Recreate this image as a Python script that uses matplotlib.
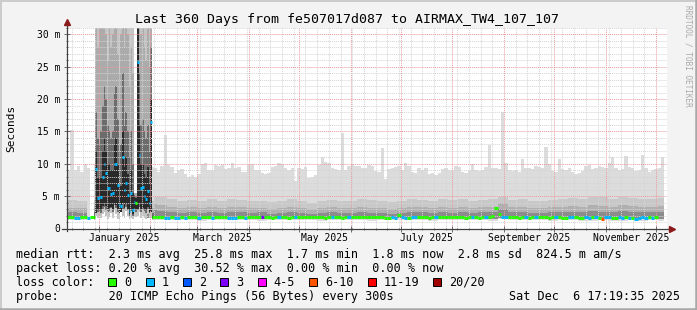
import numpy as np
import matplotlib
matplotlib.use("Agg")
import matplotlib.pyplot as plt
import matplotlib.dates as mdates
from matplotlib.patches import Rectangle
from matplotlib.transforms import blended_transform_factory
from datetime import datetime, timedelta

W, H = 697, 310
MONO = "DejaVu Sans Mono"

# time frame: left edge of the plot, span shown, days that hold data
DAY0 = datetime(2024, 12, 13, 3, 0)
SPAN_DAYS = 359.5
DATA_DAYS = 358

TITLE = "Last 360 Days from fe507017d087 to AIRMAX_TW4_107_107"
LOSS_LABELS = ["0", "1", "2", "3", "4-5", "6-10", "11-19", "20/20"]
LOSS_COLORS = ["#26ff00", "#00b8ff", "#0059ff", "#7e00ff",
               "#ff00ff", "#ff5500", "#ff0000", "#a10000"]
SMOKE = ["#dcdcdc", "#c8c8c8", "#b0b0b0", "#8c8c8c"]
OUT_SMOKE = ["#dddddd", "#c4c4c4", "#ababab", "#6c6c6c", "#2a2a2a"]
nan = np.nan

# ---- 2-day bins (bin i = days 2i..2i+2), ms -------------------------------
hi_ms = [9.0, 15.2, 9.0, 9.6, 8.8, 10.0, 9.4, 10.0,
         nan, nan, nan, nan, nan, nan, nan, nan, nan, nan, nan, nan, nan, nan, nan, nan, nan, nan,
         9.4, 8.8, 9.6, 14.4, 9.8, 9.5, 8.6, 9.0, 9.2, 8.4,
         8.0, 8.3, 8.0, 8.4, 9.9, 10.1, 9.0, 9.1, 9.8, 9.7, 9.8, 9.2, 9.4, 10.2, 9.4, 9.5, 8.8, 8.7,
         9.8, 10.0, 9.0, 9.1, 8.6, 8.4, 8.6, 9.5, 9.6, 10.1, 10.0, 9.3, 9.0, 9.4, 7.4, 9.3, 9.2, 9.5,
         7.8, 7.9, 8.2, 9.8, 11.1, 10.3, 10.1, 9.4, 9.2, 9.0, 14.8, 9.1, 9.6, 10.0, 9.7, 9.6, 9.3, 9.3,
         9.8, 9.7, 8.9, 8.8, 12.5, 7.6, 9.2, 9.3, 9.5, 9.6, 9.0, 10.2, 9.6, 8.7, 8.6, 9.4, 9.0, 9.3,
         8.4, 8.6, 8.3, 8.6, 9.2, 9.3, 9.0, 9.1, 9.6, 9.5, 8.8, 8.6, 8.9, 10.0, 9.0, 8.9, 9.1, 9.5,
         12.9, 9.3, 9.4, 9.2, 18.0, 10.1, 9.0, 8.9, 9.1, 8.8, 10.8, 9.3, 9.4, 9.2, 9.6, 9.5, 9.4, 12.6,
         10.0, 8.9, 8.7, 10.8, 9.2, 9.0, 9.3, 8.7, 8.5, 8.6, 8.9, 9.6, 9.8, 9.2, 9.4, 9.6, 9.5, 9.4,
         10.1, 11.0, 9.3, 9.1, 9.2, 11.2, 9.5, 9.4, 8.9, 9.0, 11.3, 9.3, 8.8, 9.0, 9.2, 9.4, 11.1]

med_ms = [1.8, 1.8, 1.7, 1.7, 1.8, 1.8, 1.7, 1.8,
          nan, nan, nan, nan, nan, nan, nan, nan, nan, nan, nan, nan, nan, nan, nan, nan, nan, nan,
          1.8, 1.8, 1.8, 1.7, 1.7, 1.8, 1.7, 1.7, 1.8, 1.7,
          1.8, 1.8, 1.8, 1.7, 1.8, 1.8, 1.8, 1.7, 1.8, 1.8, 1.8, 1.8, 1.7, 1.7, 1.7, 1.8, 1.8, 1.7,
          1.8, 1.8, 1.8, 1.8, 1.8, 1.8, 1.8, 1.7, 1.8, 1.8, 1.8, 1.8, 1.7, 1.8, 1.8, 1.8,
          1.8, 1.8, 1.8, 1.8, 1.8, 1.8, 1.8, 1.7, 1.8, 1.8, 1.8, 1.8, 1.7, 1.8, 1.8, 1.8, 1.8, 1.8,
          1.8, 1.8, 1.8, 1.8, 1.8, 1.8, 1.8, 1.7, 1.7, 1.8, 1.7, 2.1, 1.8, 1.7, 1.7, 1.8, 1.8, 1.8,
          1.8, 1.8, 1.7, 1.8, 1.8, 1.8, 1.8, 1.8, 1.8, 1.8, 1.8, 1.8, 1.8, 1.7, 1.8, 1.8, 1.8, 1.7,
          1.8, 1.8, 1.8, 1.9, 3.1, 2.3, 1.8, 1.8, 1.8, 1.8, 1.8, 1.7, 1.8, 1.8, 1.7, 1.8, 1.8, 1.8,
          1.8, 1.8, 1.7, 1.8, 1.8, 1.8, 1.7, 1.7, 1.8, 1.8, 1.8, 1.7, 1.7, 1.8, 1.7, 1.8, 1.8, 1.7,
          1.5, 1.8, 1.8, 1.7, 1.7, 1.8, 1.7, 1.8, 1.7, 1.6, 1.5, 1.7, 1.8, 1.7, 1.8, 1.7, 1.8]

# loss class per 2-day bin, index into LOSS_LABELS
loss_2d = ("00110010" "000000000000000000" "0001101101"
           "000100010000111001000030000100001000"
           "000000010000100000000000011011011000"
           "001000000000010001000011000001001000"
           "00100011000110105110011010111101010")

# ---- 6-day bins (bin k = days 6k..6k+6), inner smoke, ms -----------------
lo_ms = [1.25, 1.3, 1.25, nan, nan, nan, nan, nan,
         1.3, 1.25, 1.25, 1.3, 1.25, 1.2, 1.25, 1.25, 1.3, 1.25, 1.25, 1.2, 1.25, 1.25, 1.3, 1.25,
         1.25, 1.2, 1.25, 1.3, 1.25, 1.25, 1.2, 1.25, 1.25, 1.3, 1.25, 1.25, 1.2, 1.25, 1.25, 1.3,
         1.25, 1.25, 1.2, 1.4, 1.25, 1.25, 1.3, 1.25, 1.2, 1.25, 1.25, 1.2, 1.15, 1.25, 1.2, 1.1,
         1.25, 1.2, 1.25, 1.2]
qlo_ms = [1.55, 1.6, 1.55, nan, nan, nan, nan, nan,
          1.6, 1.55, 1.55, 1.6, 1.55, 1.5, 1.55, 1.55, 1.6, 1.55, 1.55, 1.5, 1.55, 1.55, 1.6, 1.55,
          1.55, 1.5, 1.55, 1.6, 1.55, 1.55, 1.5, 1.55, 1.55, 1.6, 1.55, 1.55, 1.5, 1.55, 1.55, 1.6,
          1.55, 1.55, 1.5, 1.7, 1.55, 1.55, 1.6, 1.55, 1.5, 1.55, 1.55, 1.5, 1.45, 1.55, 1.5, 1.4,
          1.55, 1.5, 1.55, 1.5]
q2_ms = [4.4, 4.3, 4.6, nan, nan, nan, nan, nan,
         4.9, 4.8, 4.5, 4.3, 4.4, 4.2, 4.5, 4.3, 4.6, 4.4, 4.2, 4.3, 4.1, 4.3, 4.5, 4.2,
         4.0, 4.3, 4.4, 4.2, 4.3, 4.5, 4.4, 4.2, 4.1, 4.3, 4.6, 4.4, 4.3, 4.5, 4.4, 4.6,
         4.3, 4.4, 4.5, 4.9, 4.4, 4.5, 4.3, 4.2, 4.4, 4.5, 4.7, 4.6, 4.9, 4.8, 4.6, 4.9,
         4.7, 4.5, 4.6, 4.7]
q3_ms = [3.2, 3.1, 3.4, nan, nan, nan, nan, nan,
         3.8, 3.6, 3.4, 3.2, 3.3, 3.1, 3.3, 3.2, 3.4, 3.3, 3.1, 3.2, 3.0, 3.2, 3.3, 3.1,
         3.0, 3.2, 3.3, 3.1, 3.2, 3.3, 3.2, 3.1, 3.0, 3.2, 3.4, 3.3, 3.2, 3.3, 3.2, 3.4,
         3.2, 3.3, 3.3, 3.9, 3.3, 3.3, 3.2, 3.1, 3.3, 3.4, 3.5, 3.4, 3.6, 3.5, 3.4, 3.6,
         3.5, 3.3, 3.4, 3.5]
q4_ms = [2.5, 2.4, 2.6, nan, nan, nan, nan, nan,
         2.9, 2.7, 2.5, 2.4, 2.5, 2.4, 2.5, 2.4, 2.6, 2.5, 2.4, 2.5, 2.3, 2.4, 2.5, 2.4,
         2.3, 2.4, 2.5, 2.4, 2.4, 2.5, 2.4, 2.4, 2.3, 2.4, 2.6, 2.5, 2.4, 2.5, 2.4, 2.6,
         2.4, 2.5, 2.5, 3.0, 2.5, 2.5, 2.4, 2.4, 2.5, 2.6, 2.6, 2.5, 2.7, 2.6, 2.6, 2.7,
         2.6, 2.5, 2.6, 2.6]

# ---- daily values around the Jan 2025 outage (days 16..51), ms ------------
OUT_FIRST = 16
out_top = [10.0, 40, 40, 40, 40, 40, 40, 40, 40, 40, 40, 40, 40, 40, 40, 40, 40, 40, 40, 40,
           40, 40, 40, 40, 5.5, 5.5, 40, 40, 40, 40, 40, 40, 40, 40, 40, 9.5]
out_q2 = [4.4, 40, 40, 40, 40, 40, 40, 40, 40, 40, 40, 40, 40, 40, 40, 40, 40, 40, 40, 40,
          40, 40, 40, 40, 5.5, 5.5, 40, 40, 40, 40, 40, 40, 40, 40, 40, 4.3]
out_lo = [1.3, 1.9, 1.7, 2.0, 1.6, 2.2, 2.6, 2.0, 1.5, 1.8, 2.4, 1.7, 2.8, 2.2, 1.5, 1.4, 2.5, 2.0,
          1.6, 2.7, 1.9, 1.5, 1.6, 1.5, 2.0, 1.8, 1.9, 2.6, 1.6, 1.9, 1.7, 1.5, 2.3, 1.7, 1.6, 1.3]
out_lo2 = [1.5, 2.8, 2.5, 2.7, 2.4, 3.0, 3.4, 2.9, 2.5, 2.7, 3.1, 2.6, 3.6, 3.2, 2.6, 2.2, 2.9, 3.0,
           2.8, 3.4, 2.8, 2.0, 2.7, 2.0, 2.8, 2.6, 2.8, 3.4, 2.6, 2.9, 2.7, 2.4, 3.0, 2.4, 2.5, 1.5]
out_q3 = [3.3, 40, 28, 32, 40, 40, 40, 30, 26, 40, 28, 30, 40, 40, 27, 24, 30, 40,
          28, 40, 30, 22, 28, 24, 5.5, 5.5, 40, 40, 30, 40, 28, 26, 40, 25, 40, 3.2]
out_q4 = [2.5, 18, 14, 13, 15, 19, 22, 20, 16, 15, 14, 15, 21, 22, 17, 12, 13, 24,
          16, 18, 15, 11, 15, 10, 5.2, 5.0, 35, 24, 16, 17, 15, 14, 16, 12, 28, 2.4]
out_core_lo = [1.7, 2.4, 2.8, 3.0, 2.8, 3.5, 4.0, 3.5, 3.0, 3.2, 3.4, 3.0, 4.0, 3.6, 3.0, 2.4, 2.6, 4.0,
               3.2, 3.8, 3.0, 2.2, 3.0, 2.2, 3.2, 3.0, 3.0, 4.0, 3.0, 3.2, 3.0, 2.8, 3.4, 2.6, 2.6, 1.7]
out_core_hi = [1.9, 12, 8, 8, 8, 12, 14, 12, 10, 10, 9, 9, 13, 14, 10, 6.5, 6.5, 15,
               9.5, 11, 8.5, 5.5, 9, 5.5, 5.0, 4.7, 40, 16, 10, 10, 8.5, 8, 9.5, 7, 20, 1.9]
out_med = [1.8, 9.2, 4.7, 4.8, 4.8, 8.0, 10.0, 8.6, 6.3, 6.3, 5.4, 5.5, 9.9, 10.0, 6.8, 3.6, 3.5, 11.1,
           5.9, 7.1, 5.2, 2.7, 5.5, 2.8, 4.1, 4.0, 25.7, 11.4, 6.3, 6.4, 5.0, 4.6, 5.8, 3.9, 16.5, 1.8]
out_loss = "011111111111111111111111101111111110"

LEGEND_RTT = "median rtt:  2.3 ms avg  25.8 ms max  1.7 ms min  1.8 ms now  2.8 ms sd  824.5 m am/s"
LEGEND_LOSS = "packet loss: 0.20 % avg  30.52 % max  0.00 % min  0.00 % now"
PROBE = "probe:       20 ICMP Echo Pings (56 Bytes) every 300s"
STAMP = "Sat Dec  6 17:19:35 2025"

X0 = mdates.date2num(DAY0)


def steps(values, width, first=0):
    v = np.asarray(values, float)
    d = first + width * np.arange(len(v) + 1)
    return X0 + np.minimum(d, DATA_DAYS), np.append(v, v[-1])


def smoke(ax, width, first, layers):
    for (lo, hi), color in layers:
        x, ylo = steps(lo, width, first)
        _, yhi = steps(hi, width, first)
        ax.fill_between(x, ylo, yhi, step="post", color=color, lw=0, zorder=1)


def median(ax, width, first, med, loss):
    x, _ = steps(med, width, first)
    for i, m in enumerate(med):
        if np.isnan(m):
            continue
        ax.hlines(m, x[i], x[i + 1], colors=LOSS_COLORS[int(loss[i])],
                  lw=2.2, zorder=4)


fig = plt.figure(figsize=(W / 100, H / 100), dpi=100, facecolor="#f3f3f3")
ax = fig.add_axes([67 / W, 1 - 228.5 / H, 600 / W, 200.5 / H])
ax.set_facecolor("white")
for s in ax.spines.values():
    s.set_visible(False)

# normal smoke: outer band on 2-day bins (floor taken from the 6-day bins), inner bands on 6-day bins
floor_2d = np.repeat(lo_ms, 3)[:len(hi_ms)]
smoke(ax, 2, 0, [((floor_2d, hi_ms), SMOKE[0])])
smoke(ax, 6, 0, [((qlo_ms, q2_ms), SMOKE[1]), ((qlo_ms, q3_ms), SMOKE[2]),
                 ((qlo_ms, q4_ms), SMOKE[3])])
# outage smoke, daily
smoke(ax, 1, OUT_FIRST, [((out_lo, out_top), OUT_SMOKE[0]), ((out_lo, out_q2), OUT_SMOKE[1]),
                         ((out_lo2, out_q3), OUT_SMOKE[2]), ((out_lo2, out_q4), OUT_SMOKE[3]),
                         ((out_core_lo, out_core_hi), OUT_SMOKE[4])])

median(ax, 2, 0, med_ms, loss_2d)
median(ax, 1, OUT_FIRST, out_med, out_loss)

ax.set_xlim(X0, X0 + SPAN_DAYS)
ax.set_ylim(0, 31)
ax.xaxis_date()
ax.xaxis.set_major_locator(mdates.MonthLocator())
ax.xaxis.set_minor_locator(mdates.WeekdayLocator(byweekday=mdates.MO))
ax.xaxis.set_major_formatter(plt.NullFormatter())
ax.yaxis.set_major_locator(plt.MultipleLocator(5))
ax.yaxis.set_minor_locator(plt.MultipleLocator(1))
ax.yaxis.set_major_formatter(plt.FuncFormatter(lambda v, p: "0" if v == 0 else f"{v:g} m"))
ax.set_axisbelow(False)
dots = (0, (1, 1))
ax.grid(which="minor", color="#d4d4d4", ls=dots, lw=0.7, zorder=2)
ax.grid(which="major", color="#eb9a9a", ls=dots, lw=0.7, zorder=2)
ax.tick_params(which="both", direction="inout", color="#555555", width=0.6)
ax.tick_params(which="major", length=4)
ax.tick_params(which="minor", length=2)
ax.tick_params(axis="y", labelsize=7, pad=3)
for lbl in ax.get_yticklabels():
    lbl.set_family(MONO)

# month labels centred inside every other month
tr = blended_transform_factory(ax.transData, ax.transAxes)
months = mdates.MonthLocator().tick_values(DAY0 - timedelta(days=40),
                                           DAY0 + timedelta(days=SPAN_DAYS + 40))
for a, b in zip(months[:-1], months[1:]):
    mid = (a + b) / 2
    month = mdates.num2date(a)
    if month.month % 2 == 1 and X0 < mid < X0 + SPAN_DAYS:
        ax.text(mid, -0.047, month.strftime("%B %Y"), transform=tr, ha="center", va="center",
                fontsize=7, family=MONO)

# axes with arrows
axis_c = "#404040"
ax.plot([0, 0], [-0.012, 1.025], transform=ax.transAxes, color=axis_c, lw=0.9,
        clip_on=False, zorder=6)
ax.plot([-0.008, 1.006], [0, 0], transform=ax.transAxes, color=axis_c, lw=0.9,
        clip_on=False, zorder=6)
ax.plot([0], [1.03], marker="^", ms=4.5, color="#8b1a1a", transform=ax.transAxes,
        clip_on=False, zorder=7)
ax.plot([1.009], [0], marker=">", ms=4.5, color="#8b1a1a", transform=ax.transAxes,
        clip_on=False, zorder=7)

ax.set_ylabel("Seconds", family=MONO, fontsize=8)
ax.yaxis.set_label_coords(-(67 - 16) / 600, 0.5)

fig.text(347 / W, 1 - 19 / H, TITLE, ha="center", va="center", family=MONO, fontsize=9.5)
fig.text(688 / W, 1 - 5 / H, "RRDTOOL / TOBI OETIKER", rotation=270, ha="center", va="top",
         family=MONO, fontsize=5.6, color="#aaaaaa")

rows = [LEGEND_RTT, LEGEND_LOSS, "loss color:", PROBE]
for i, row in enumerate(rows):
    fig.text(16 / W, 1 - (254.3 + 14 * i) / H, row, ha="left", va="center",
             family=MONO, fontsize=8.45)
fig.text(680 / W, 1 - 296 / H, STAMP, ha="right", va="center", family=MONO, fontsize=8.45)

# loss colour key
CHAR_W = 7.05
bx = 108.3
for lab, col in zip(LOSS_LABELS, LOSS_COLORS):
    fig.add_artist(Rectangle((bx / W, 1 - 286.3 / H), 8 / W, 8 / H, transform=fig.transFigure,
                             facecolor=col, edgecolor="black", lw=0.7))
    fig.text((bx + 15.7) / W, 1 - 282.3 / H, lab, ha="left", va="center",
             family=MONO, fontsize=8.45)
    bx += 15.7 + len(lab) * CHAR_W + 14.6

# bevel border
fig.add_artist(plt.Line2D([0, 1], [1 - 0.5 / H] * 2, color="#cbcbcb", lw=1.4))
fig.add_artist(plt.Line2D([0.5 / W] * 2, [0, 1], color="#cbcbcb", lw=1.4))
fig.add_artist(plt.Line2D([0, 1], [1.2 / H] * 2, color="#a8a8a8", lw=1.8))
fig.add_artist(plt.Line2D([1 - 1.2 / W] * 2, [0, 1], color="#a8a8a8", lw=1.8))

fig.savefig("out.png", dpi=100, facecolor=fig.get_facecolor())
